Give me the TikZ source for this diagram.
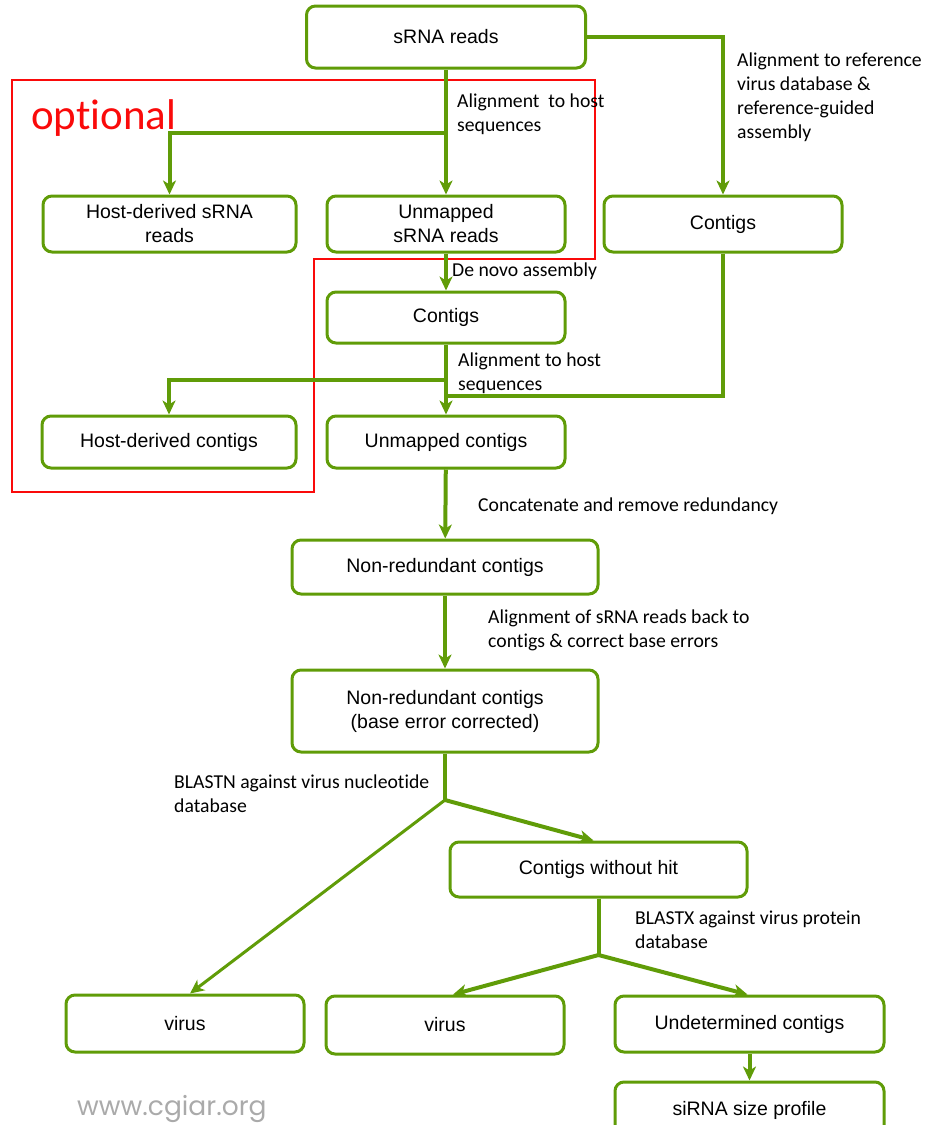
\documentclass[tikz,border=0pt]{standalone}
\usepackage{fontspec}
\setmainfont{Liberation Sans}
\newfontfamily\calfont{Carlito}[Ligatures={NoCommon}]
\newfontfamily\popfont{Poppins}
\usetikzlibrary{arrows.meta}
\definecolor{vgreen}{RGB}{96,156,8}
\definecolor{optred}{RGB}{250,10,10}
\definecolor{wgray}{RGB}{170,170,170}
\tikzset{
  box/.style={draw=vgreen, line width=3pt, rounded corners=9pt, align=center, inner sep=0pt,
    font=\fontsize{19.5}{24}\selectfont},
  lbl/.style={anchor=west, align=left, inner sep=0pt, font=\calfont\fontsize{19.7}{24}\selectfont},
  conn/.style={draw=vgreen, line width=4pt},
  arr/.style={conn, -{Stealth[length=14pt,width=13pt,inset=4pt]}}
}
\begin{document}
\begin{tikzpicture}[x=1pt,y=-1pt]
\useasboundingbox (0,0) rectangle (925,1125);
% optional region
\draw[optred, line width=2.5pt] (12,80) -- (595,80) -- (595,259) -- (314,259) -- (314,492) -- (12,492) -- cycle;
\node[anchor=base west, inner sep=0pt, text=optred, font=\calfont\fontsize{43}{48}\selectfont] (opt) at (31,129) {optional};
% boxes
\node[box, minimum width=279pt, minimum height=62pt] (srna) at (446,37) {sRNA reads};
\node[box, minimum width=253pt, minimum height=56pt] (hsr) at (169.5,224) {Host-derived sRNA\\reads};
\node[box, minimum width=238pt, minimum height=56pt] (usr) at (446,224) {Unmapped\\sRNA reads};
\node[box, minimum width=238pt, minimum height=56pt] (crt) at (723,224) {Contigs};
\node[box, minimum width=238pt, minimum height=51pt] (cmid) at (446,317.5) {Contigs};
\node[box, minimum width=254pt, minimum height=52pt] (hdc) at (169,442) {Host-derived contigs};
\node[box, minimum width=238pt, minimum height=52pt] (uc) at (446,442) {Unmapped contigs};
\node[box, minimum width=306pt, minimum height=54pt] (nrc) at (445,567) {Non-redundant contigs};
\node[box, minimum width=306pt, minimum height=82pt] (nrce) at (445,711) {Non-redundant contigs\\(base error corrected)};
\node[box, minimum width=297pt, minimum height=55pt] (cwh) at (598.5,869.5) {Contigs without hit};
\node[box, minimum width=238pt, minimum height=57pt] (v1) at (185,1023.5) {virus};
\node[box, minimum width=238pt, minimum height=58pt] (v2) at (445,1025) {virus};
\node[box, minimum width=269pt, minimum height=56pt] (ud) at (749.5,1024) {Undetermined contigs};
\node[box, minimum width=269pt, minimum height=56pt] (sp) at (749.5,1110) {siRNA size profile};
% connectors
\draw[arr] (srna) -- (usr);
\coordinate (b1) at (446,133);
\draw[arr] (b1) -| (hsr.north);
\draw[arr] (srna.east) -| (crt.north);
\draw[arr] (usr) -- (cmid);
\draw[arr] (cmid) -- (uc);
\coordinate (b2) at (446,380);
\draw[arr] (b2) -| (hdc.north);
\coordinate (b3) at (446,396);
\draw[conn] (crt.south) |- (b3);
\draw[arr] (uc) -- (nrc);
\draw[arr] (nrc) -- (nrce);
\coordinate (b4) at (445,800);
\draw[conn] (nrce.south) -- (b4);
\draw[arr, line width=3pt] (b4) -- ([xshift=5pt]v1.north);
\draw[arr] (b4) -- ([xshift=-5pt]cwh.north);
\coordinate (b5) at (598.5,955);
\draw[conn] (cwh.south) -- (b5);
\draw[arr] (b5) -- ([xshift=8pt]v2.north);
\draw[arr] (b5) -- ([xshift=-2pt]ud.north);
\draw[arr] (ud) -- (sp);
% labels
\node[lbl] (l1) at (457,114) {Alignment\ \ to host\\sequences};
\node[lbl] (l2) at (737,97) {Alignment to reference\\virus database \&\\reference-guided\\assembly};
\node[lbl] (l3) at (452,271) {De novo assembly};
\node[lbl] (l4) at (458,373) {Alignment to host\\sequences};
\node[lbl] (l5) at (478,506) {Concatenate and remove redundancy};
\node[lbl] (l6) at (488,630) {Alignment of sRNA reads back to\\contigs \& correct base errors};
\node[lbl] (l7) at (174,794) {BLASTN against virus nucleotide\\database};
\node[lbl] (l8) at (635,930) {BLASTX against virus protein\\database};
% footer
\node[anchor=base west, inner sep=0pt, text=wgray, font=\popfont\fontsize{26.5}{30}\selectfont] (www) at (77,1115) {www.cgiar.org};
\end{tikzpicture}
\end{document}
